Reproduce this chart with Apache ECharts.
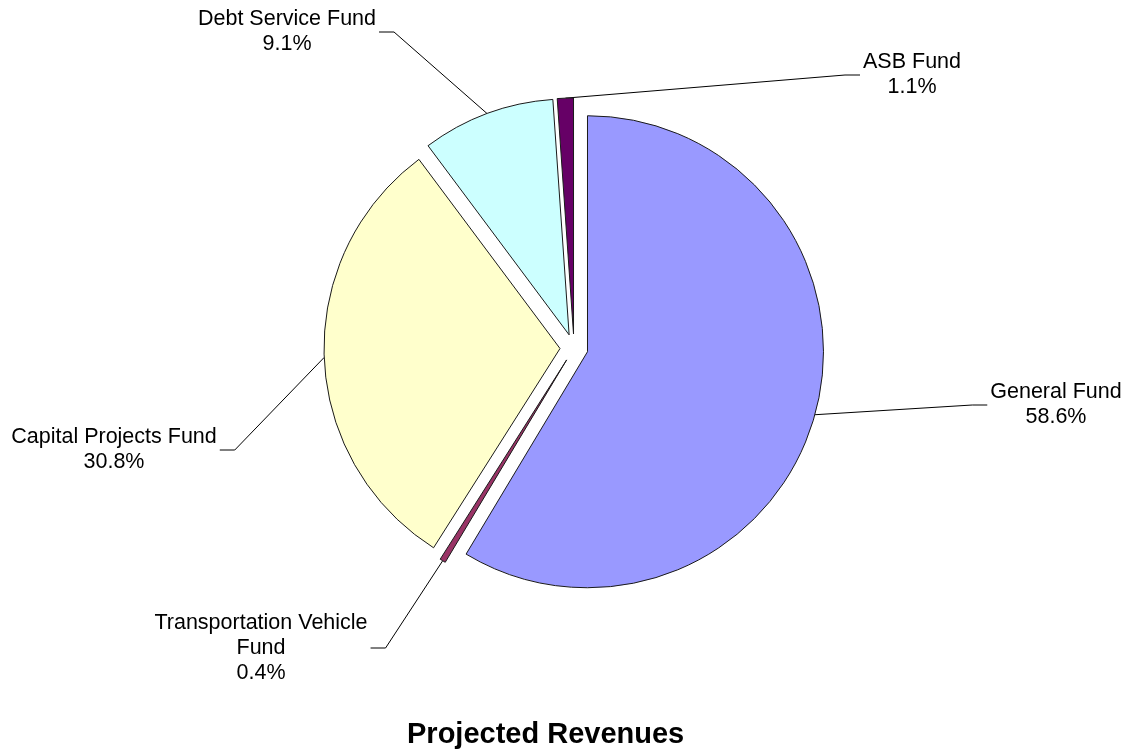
<!DOCTYPE html>
<html>
<head>
<meta charset="utf-8">
<title>Projected Revenues</title>
<script src="https://cdn.jsdelivr.net/npm/echarts@6.0.0/dist/echarts.min.js"></script>
<style>
  html, body { margin: 0; padding: 0; background: #fff; }
  #chart { width: 1135px; height: 752px; }
</style>
</head>
<body>
<div id="chart"></div>
<script>
const funds = ['General Fund', 'Transportation Vehicle Fund', 'Capital Projects Fund', 'Debt Service Fund', 'ASB Fund']
const shares = [58.6, 0.4, 30.8, 9.1, 1.1]
const fundColors = ['#9999FF', '#993366', '#FFFFCC', '#CCFFFF', '#660066']
const chartTitle = 'Projected Revenues'

// centre of each label block
const labelSpots = [[1056, 405], [261, 648], [114, 450], [287, 32], [912, 75]]

const pieCenter = [574, 348]
const pieRadius = 236
const explode = 14
const font = '"Liberation Sans", Arial, sans-serif'

function wrapName(name) {
  if (name.length < 24) return name
  const cut = name.lastIndexOf(' ')
  return name.slice(0, cut) + '\n' + name.slice(cut + 1)
}

const chart = echarts.init(document.getElementById('chart'))

chart.setOption({
  animation: false,
  backgroundColor: '#fff',
  color: fundColors,
  title: {
    text: chartTitle,
    left: 407,
    top: 720,
    padding: 0,
    textStyle: { fontFamily: font, fontSize: 29, fontWeight: 'bold', color: '#000' }
  },
  series: [
    {
      // the exploded slices
      type: 'pie',
      center: pieCenter,
      radius: pieRadius,
      startAngle: 90,
      clockwise: true,
      silent: true,
      selectedMode: 'multiple',
      selectedOffset: explode,
      label: { show: false },
      labelLine: { show: false },
      itemStyle: { borderColor: '#1a1a1a', borderWidth: 1 },
      data: funds.map((name, i) => ({ name, value: shares[i], selected: true }))
    },
    {
      // invisible twin, one explode wider, only carries the labels
      type: 'pie',
      center: pieCenter,
      radius: pieRadius + explode,
      startAngle: 90,
      clockwise: true,
      silent: true,
      avoidLabelOverlap: false,
      itemStyle: { color: 'rgba(0,0,0,0)' },
      label: {
        show: true,
        position: 'outside',
        formatter: p => wrapName(p.name) + '\n' + p.value.toFixed(1) + '%',
        color: '#000',
        fontFamily: font,
        fontSize: 21.5,
        lineHeight: 25
      },
      labelLine: { show: true, length: 10, length2: 10, lineStyle: { color: '#000', width: 1 } },
      labelLayout: function (p) {
        const spot = labelSpots[p.dataIndex]
        const half = p.labelRect.width / 2
        const onRight = spot[0] > pieCenter[0]
        const endX = onRight ? spot[0] - half - 3 : spot[0] + half + 3
        const bendX = onRight ? endX - 15 : endX + 15
        const out = { x: spot[0], y: spot[1], align: 'center', verticalAlign: 'middle' }
        if (p.labelLinePoints) {
          out.labelLinePoints = [p.labelLinePoints[0], [bendX, spot[1]], [endX, spot[1]]]
        }
        return out
      },
      data: funds.map((name, i) => ({ name, value: shares[i] }))
    }
  ]
})
</script>
</body>
</html>
